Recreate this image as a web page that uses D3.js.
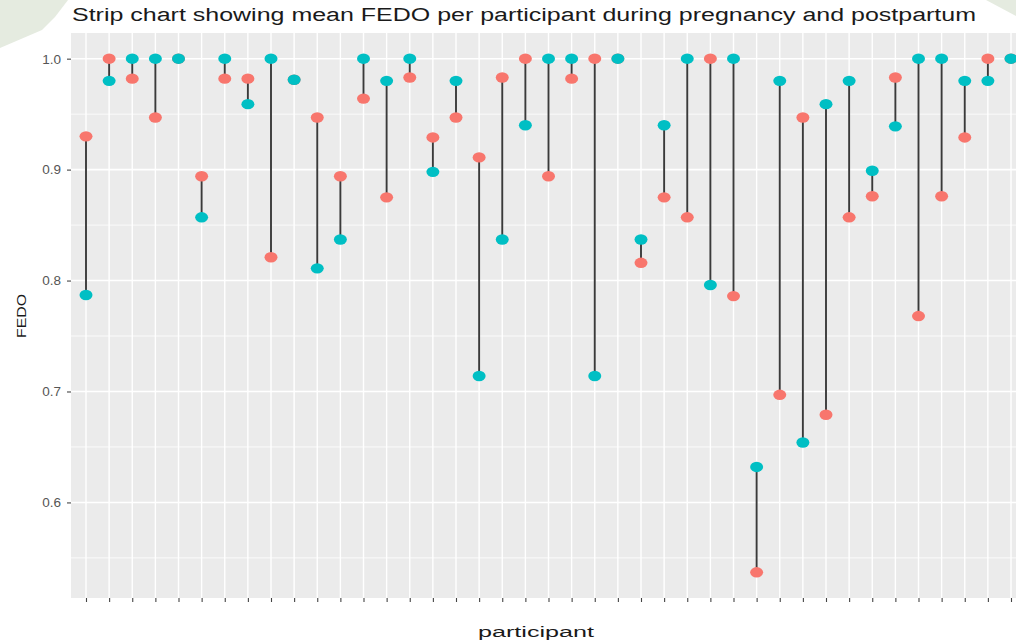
<!DOCTYPE html>
<html>
<head>
<meta charset="utf-8">
<script src="https://cdn.jsdelivr.net/npm/d3@7"></script>
<style>
  html, body { margin: 0; padding: 0; background: #ffffff; }
  svg { display: block; }
  text { font-family: "Liberation Sans", Arial, sans-serif; }
</style>
</head>
<body>
<div id="chart"></div>
<script>
// ---- data ----
const participants = d3.range(1, 42).map(i => "P" + i);
const pregnancy = [0.930, 1.000, 0.982, 0.947, 1.000, 0.894, 0.982, 0.982, 0.821, 0.981,
                   0.947, 0.894, 0.964, 0.875, 0.983, 0.929, 0.947, 0.911, 0.983, 1.000,
                   0.894, 0.982, 1.000, 1.000, 0.816, 0.875, 0.857, 1.000, 0.786, 0.537,
                   0.697, 0.947, 0.679, 0.857, 0.876, 0.983, 0.768, 0.876, 0.929, 1.000,
                   1.000];
const postpartum = [0.787, 0.980, 1.000, 1.000, 1.000, 0.857, 1.000, 0.959, 1.000, 0.981,
                    0.811, 0.837, 1.000, 0.980, 1.000, 0.898, 0.980, 0.714, 0.837, 0.940,
                    1.000, 1.000, 0.714, 1.000, 0.837, 0.940, 1.000, 0.796, 1.000, 0.632,
                    0.980, 0.654, 0.959, 0.980, 0.899, 0.939, 1.000, 1.000, 0.980, 0.980,
                    1.000];
const yTicks = [0.6, 0.7, 0.8, 0.9, 1.0];
const yMinor = [0.55, 0.65, 0.75, 0.85, 0.95];
const titleText = "Strip chart showing mean FEDO per participant during pregnancy and postpartum";
const xTitle = "participant";
const yTitle = "FEDO";
const seriesColors = { pregnancy: "#F8766D", postpartum: "#00BFC4" };

// ---- layout ----
const W = 1016, H = 643;
const panel = { left: 71, top: 33, right: 1040, bottom: 598 };

const svg = d3.select("#chart").append("svg")
  .attr("width", W).attr("height", H);

// background decorations (page corners)
svg.append("polygon").attr("points", "0,0 68,0 55,17 42,30 0,48").attr("fill", "#e5ebe0");
svg.append("polygon").attr("points", "986,0 1016,0 1016,16").attr("fill", "#e5ebe0");

// scales
const allVals = pregnancy.concat(postpartum);
const lo = d3.min(allVals), hi = d3.max(allVals);
const pad = (hi - lo) * 0.05;
const y = d3.scaleLinear().domain([lo - pad, hi + pad]).range([panel.bottom, panel.top]);
const x = d3.scalePoint().domain(participants).range([86, 1011]);

// panel
svg.append("rect")
  .attr("x", panel.left).attr("y", panel.top)
  .attr("width", panel.right - panel.left).attr("height", panel.bottom - panel.top)
  .attr("fill", "#EBEBEB");

const grid = svg.append("g");
grid.selectAll("line.minor").data(yMinor).join("line")
  .attr("x1", panel.left).attr("x2", panel.right)
  .attr("y1", d => y(d)).attr("y2", d => y(d))
  .attr("stroke", "#ffffff").attr("stroke-width", 0.8);
grid.selectAll("line.major").data(yTicks).join("line")
  .attr("x1", panel.left).attr("x2", panel.right)
  .attr("y1", d => y(d)).attr("y2", d => y(d))
  .attr("stroke", "#ffffff").attr("stroke-width", 1.6);
grid.selectAll("line.vx").data(participants).join("line")
  .attr("x1", d => x(d)).attr("x2", d => x(d))
  .attr("y1", panel.top).attr("y2", panel.bottom)
  .attr("stroke", "#ffffff").attr("stroke-width", 1.4);

// y axis
const yAxis = d3.axisLeft(y).tickValues(yTicks).tickFormat(d3.format(".1f")).tickSize(4).tickPadding(6);
const gy = svg.append("g").attr("transform", `translate(${panel.left},0)`).call(yAxis);
gy.select(".domain").remove();
gy.selectAll(".tick line").attr("stroke", "#555").attr("stroke-width", 1.2);
gy.selectAll(".tick text").attr("fill", "#555").attr("font-size", 13.5)
  .attr("font-family", "Liberation Sans, Arial, sans-serif");

// x axis (ticks only, labels blank)
const xAxis = d3.axisBottom(x).tickSize(4).tickFormat(() => "");
const gx = svg.append("g").attr("transform", `translate(0,${panel.bottom})`).call(xAxis);
gx.select(".domain").remove();
gx.selectAll(".tick line").attr("stroke", "#444").attr("stroke-width", 1.1);

// data rows
const rows = participants.map((p, i) => ({ p, a: pregnancy[i], b: postpartum[i] }));

svg.append("g").selectAll("line").data(rows).join("line")
  .attr("x1", d => x(d.p)).attr("x2", d => x(d.p))
  .attr("y1", d => y(d.a)).attr("y2", d => y(d.b))
  .attr("stroke", "#3a3a3a").attr("stroke-width", 1.9);

svg.append("g").selectAll("ellipse").data(rows).join("ellipse")
  .attr("cx", d => x(d.p)).attr("cy", d => y(d.a))
  .attr("rx", 6.5).attr("ry", 5.2)
  .attr("fill", seriesColors.pregnancy);

svg.append("g").selectAll("ellipse").data(rows).join("ellipse")
  .attr("cx", d => x(d.p)).attr("cy", d => y(d.b))
  .attr("rx", 6.5).attr("ry", 5.2)
  .attr("fill", seriesColors.postpartum);

// titles
svg.append("text").attr("x", 72).attr("y", 21)
  .attr("font-size", 18).attr("fill", "#1a1a1a")
  .attr("textLength", 904).attr("lengthAdjust", "spacingAndGlyphs")
  .text(titleText);

svg.append("text").attr("x", 478).attr("y", 637)
  .attr("font-size", 14).attr("fill", "#1a1a1a")
  .attr("textLength", 116).attr("lengthAdjust", "spacingAndGlyphs")
  .text(xTitle);

svg.append("text")
  .attr("transform", "translate(26,338) rotate(-90)")
  .attr("font-size", 13).attr("fill", "#1a1a1a")
  .attr("textLength", 44).attr("lengthAdjust", "spacingAndGlyphs")
  .text(yTitle);
</script>
</body>
</html>
